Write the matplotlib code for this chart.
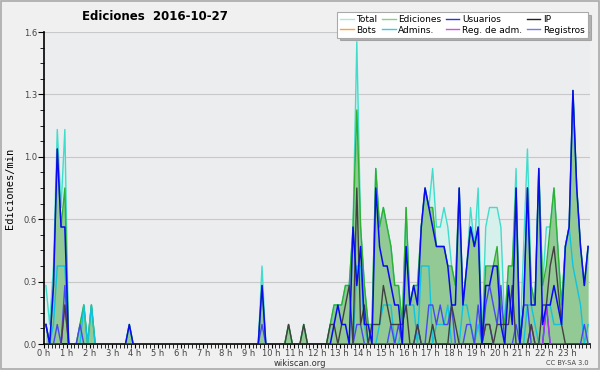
import matplotlib
matplotlib.use("Agg")
import matplotlib.pyplot as plt
import numpy as np
from matplotlib.ticker import FixedLocator, MultipleLocator, FuncFormatter

# edits per minute, 10 minute bins (6 per hour), one row = one hour
total = [
    0.3, 0.1, 0.4, 1.1, 0.7, 1.1,
    0, 0, 0, 0.1, 0.2, 0,
    0.2, 0, 0, 0, 0, 0,
    0, 0, 0, 0, 0.1, 0,
    0, 0, 0, 0, 0, 0,
    0, 0, 0, 0, 0, 0,
    0, 0, 0, 0, 0, 0,
    0, 0, 0, 0, 0, 0,
    0, 0, 0, 0, 0, 0,
    0, 0, 0, 0.4, 0, 0,
    0, 0, 0, 0, 0.1, 0,
    0, 0, 0.1, 0, 0, 0,
    0, 0, 0, 0.1, 0.2, 0.2,
    0.2, 0.3, 0.3, 0.6, 1.55, 0.6,
    0.3, 0.1, 0.1, 0.9, 0.6, 0.7,
    0.6, 0.5, 0.3, 0.3, 0.1, 0.7,
    0.2, 0.3, 0.3, 0.6, 0.8, 0.7,
    0.9, 0.6, 0.6, 0.7, 0.6, 0.4,
    0.3, 0.8, 0.2, 0.4, 0.7, 0.5,
    0.8, 0, 0.6, 0.7, 0.7, 0.7,
    0.6, 0.1, 0.4, 0.4, 0.9, 0,
    0.5, 1.0, 0.3, 0.2, 0.9, 0.3,
    0.6, 0.6, 0.8, 0.5, 0.2, 0.5,
    0.6, 1.3, 0.8, 0.5, 0.3, 0.5,
]
ediciones = [
    0.1, 0, 0.3, 1.0, 0.6, 0.8,
    0, 0, 0, 0.1, 0.2, 0,
    0.2, 0, 0, 0, 0, 0,
    0, 0, 0, 0, 0.1, 0,
    0, 0, 0, 0, 0, 0,
    0, 0, 0, 0, 0, 0,
    0, 0, 0, 0, 0, 0,
    0, 0, 0, 0, 0, 0,
    0, 0, 0, 0, 0, 0,
    0, 0, 0, 0.3, 0, 0,
    0, 0, 0, 0, 0.1, 0,
    0, 0, 0.1, 0, 0, 0,
    0, 0, 0, 0.1, 0.2, 0.2,
    0.2, 0.3, 0.3, 0.6, 1.2, 0.6,
    0.3, 0.1, 0.1, 0.9, 0.6, 0.7,
    0.6, 0.5, 0.3, 0.3, 0.1, 0.7,
    0.2, 0.3, 0.3, 0.6, 0.8, 0.7,
    0.7, 0.5, 0.5, 0.5, 0.4, 0.4,
    0.3, 0.8, 0.2, 0.4, 0.6, 0.5,
    0.6, 0, 0.4, 0.4, 0.4, 0.5,
    0.2, 0.1, 0.4, 0.4, 0.8, 0,
    0.2, 0.8, 0.3, 0.2, 0.9, 0.3,
    0.4, 0.6, 0.8, 0.5, 0.2, 0.5,
    0.6, 1.3, 0.8, 0.5, 0.3, 0.5,
]
usuarios = [
    0.1, 0, 0.3, 1.0, 0.6, 0.6,
    0, 0, 0, 0, 0, 0,
    0, 0, 0, 0, 0, 0,
    0, 0, 0, 0, 0.1, 0,
    0, 0, 0, 0, 0, 0,
    0, 0, 0, 0, 0, 0,
    0, 0, 0, 0, 0, 0,
    0, 0, 0, 0, 0, 0,
    0, 0, 0, 0, 0, 0,
    0, 0, 0, 0.3, 0, 0,
    0, 0, 0, 0, 0, 0,
    0, 0, 0, 0, 0, 0,
    0, 0, 0, 0, 0.1, 0.2,
    0.1, 0.1, 0, 0.6, 0.3, 0.5,
    0.1, 0.1, 0, 0.8, 0.5, 0.4,
    0.4, 0.3, 0.2, 0.2, 0, 0.5,
    0.2, 0.3, 0.2, 0.6, 0.8, 0.7,
    0.6, 0.5, 0.5, 0.5, 0.4, 0.2,
    0.2, 0.8, 0.2, 0.4, 0.6, 0.5,
    0.6, 0, 0.3, 0.3, 0.4, 0.4,
    0.1, 0, 0.3, 0.1, 0.8, 0,
    0.2, 0.8, 0.2, 0.2, 0.9, 0.1,
    0.2, 0.2, 0.3, 0.2, 0.1, 0.5,
    0.6, 1.3, 0.8, 0.5, 0.3, 0.5,
]
ip = [
    0, 0, 0, 0, 0, 0.2,
    0, 0, 0, 0, 0, 0,
    0, 0, 0, 0, 0, 0,
    0, 0, 0, 0, 0, 0,
    0, 0, 0, 0, 0, 0,
    0, 0, 0, 0, 0, 0,
    0, 0, 0, 0, 0, 0,
    0, 0, 0, 0, 0, 0,
    0, 0, 0, 0, 0, 0,
    0, 0, 0, 0, 0, 0,
    0, 0, 0, 0, 0.1, 0,
    0, 0, 0.1, 0, 0, 0,
    0, 0, 0, 0.1, 0.1, 0,
    0.1, 0.2, 0.3, 0, 0.8, 0.1,
    0.2, 0, 0.1, 0.1, 0.1, 0.3,
    0.2, 0.1, 0.1, 0.1, 0.1, 0.2,
    0, 0, 0.1, 0, 0, 0,
    0.1, 0, 0, 0, 0, 0.2,
    0.1, 0, 0, 0, 0, 0,
    0, 0, 0.1, 0.1, 0, 0.1,
    0.1, 0.1, 0.1, 0.3, 0, 0,
    0, 0, 0.1, 0, 0, 0.2,
    0.2, 0.4, 0.5, 0.3, 0.1, 0,
    0, 0, 0, 0, 0, 0,
]
admins = [
    0, 0, 0.1, 0.4, 0.4, 0.4,
    0, 0, 0, 0, 0.2, 0,
    0.2, 0, 0, 0, 0, 0,
    0, 0, 0, 0, 0, 0,
    0, 0, 0, 0, 0, 0,
    0, 0, 0, 0, 0, 0,
    0, 0, 0, 0, 0, 0,
    0, 0, 0, 0, 0, 0,
    0, 0, 0, 0, 0, 0,
    0, 0, 0, 0, 0, 0,
    0, 0, 0, 0, 0, 0,
    0, 0, 0, 0, 0, 0,
    0, 0, 0, 0, 0, 0,
    0, 0, 0, 0, 0.4, 0.4,
    0.1, 0, 0, 0, 0.1, 0.2,
    0.2, 0.2, 0, 0, 0.1, 0.2,
    0.2, 0.2, 0, 0.4, 0.4, 0.4,
    0, 0.1, 0.1, 0.1, 0.2, 0,
    0, 0, 0.2, 0.2, 0.1, 0,
    0.1, 0, 0.1, 0.1, 0, 0,
    0, 0, 0, 0, 0, 0,
    0, 0.2, 0.2, 0.1, 0, 0,
    0.2, 0.2, 0.1, 0.1, 0.1, 0.5,
    0.6, 0.4, 0.3, 0.2, 0, 0.1,
]
registros = [
    0.1, 0, 0, 0.1, 0, 0.3,
    0, 0, 0, 0.1, 0, 0,
    0, 0, 0, 0, 0, 0,
    0, 0, 0, 0, 0, 0,
    0, 0, 0, 0, 0, 0,
    0, 0, 0, 0, 0, 0,
    0, 0, 0, 0, 0, 0,
    0, 0, 0, 0, 0, 0,
    0, 0, 0, 0, 0, 0,
    0, 0, 0, 0.1, 0, 0,
    0, 0, 0, 0, 0, 0,
    0, 0, 0, 0, 0, 0,
    0, 0, 0, 0, 0, 0,
    0, 0, 0, 0, 0.1, 0.1,
    0, 0, 0, 0, 0, 0,
    0, 0.1, 0, 0.1, 0, 0,
    0, 0, 0.1, 0, 0, 0.2,
    0.2, 0.1, 0.2, 0.1, 0.1, 0.2,
    0, 0, 0, 0.1, 0.1, 0,
    0.2, 0, 0.2, 0.3, 0.2, 0.1,
    0.3, 0, 0, 0, 0.1, 0,
    0.2, 0.2, 0, 0, 0, 0,
    0.2, 0, 0, 0, 0, 0,
    0, 0, 0, 0, 0.1, 0,
]
reg_adm = [0.0] * 144
for i, v in [(5, 0.2), (116, 0.1), (117, 0.1), (128, 0.1), (132, 0.2)]:
    reg_adm[i] = v

hours = (np.arange(144) + 0.5) / 6
y_ticks = [0, 0.32, 0.64, 0.96, 1.28, 1.6]

fig = plt.figure(figsize=(6, 3.7), dpi=100, facecolor="#f0f0f0")
ax = fig.add_axes([44 / 600, 1 - 344 / 370, 546 / 600, 312 / 370])
ax.set_facecolor("#ecedef")

# fills first, lines on top
ax.fill_between(hours, total, color="#d6f1ec", lw=0, zorder=1)
ax.fill_between(hours, ediciones, color="#8fc78f", lw=0, alpha=0.95, zorder=2)
ax.plot(hours, total, color="#40ddcc", lw=1, zorder=3)
ax.plot(hours, ediciones, color="#30b030", lw=1, zorder=3)
ax.plot(hours, admins, color="#10c4e0", lw=1, zorder=4)
ax.plot(hours, registros, color="#4848f0", lw=1, zorder=4)
ax.plot(hours, reg_adm, color="#b030f0", lw=1, zorder=4)
ax.plot(hours, ip, color="#404040", lw=1, zorder=5)
ax.plot(hours, usuarios, color="#0a0aee", lw=1.1, zorder=6)

ax.set_xlim(0, 24)
ax.set_ylim(0, 1.6)
ax.yaxis.set_major_locator(FixedLocator(y_ticks))
ax.yaxis.set_minor_locator(MultipleLocator(0.08))
ax.yaxis.set_major_formatter(FuncFormatter(lambda v, p: f"{v:.1f}"))
ax.xaxis.set_major_locator(FixedLocator(range(24)))
ax.xaxis.set_minor_locator(MultipleLocator(1 / 6))
ax.set_xticklabels([f"{h} h" for h in range(24)])
ax.grid(axis="y", color="#c8c8c8", lw=0.8)
ax.set_axisbelow(True)
for s in ["top", "right"]:
    ax.spines[s].set_visible(False)
for s in ["left", "bottom"]:
    ax.spines[s].set_linewidth(1.2)
ax.tick_params(axis="both", which="both", direction="out", color="black",
               labelsize=6, labelcolor="#444444", pad=1)
ax.tick_params(axis="x", which="both", length=3, pad=0.5)
ax.tick_params(axis="y", which="major", length=4)
ax.tick_params(axis="y", which="minor", length=3)
ax.set_ylabel("Ediciones/min", family="DejaVu Sans Mono", fontsize=7.5, labelpad=6)

fig.text(155 / 600, 1 - 17 / 370, "Ediciones  2016-10-27", ha="center", va="center",
         fontsize=8.5, fontweight="bold")
fig.text(300 / 600, 1 - 363 / 370, "wikiscan.org", ha="center", va="center",
         fontsize=6, color="#333333")
fig.text(589 / 600, 1 - 363 / 370, "CC BY-SA 3.0", ha="right", va="center",
         fontsize=4.8, color="#444444")

labels = ["Total", "Bots", "Ediciones", "Admins.", "Usuarios", "Reg. de adm.", "IP", "Registros"]
colors = ["#a8e8e0", "#ffa040", "#88d088", "#40c8e0", "#3030dd", "#d050e0", "#222222", "#7878ee"]
handles = [plt.Line2D([], [], color=c, lw=1) for c in colors]
leg = fig.legend(handles, labels, ncol=4, loc="upper right",
                 bbox_to_anchor=(588 / 600, 1 - 12 / 370), fontsize=6.5,
                 frameon=True, fancybox=False, shadow={"color": "#777777"},
                 handlelength=1.5, handletextpad=0.3, columnspacing=0.5,
                 labelspacing=0.15, borderpad=0.35, borderaxespad=0)
leg.get_frame().set_edgecolor("#aaaaaa")
leg.get_frame().set_linewidth(0.8)

fig.patches.append(plt.Rectangle((0.002, 0.003), 0.996, 0.994, transform=fig.transFigure,
                                 fill=False, edgecolor="#aaaaaa", lw=1.2))

fig.savefig("out.png", dpi=100, facecolor=fig.get_facecolor())
